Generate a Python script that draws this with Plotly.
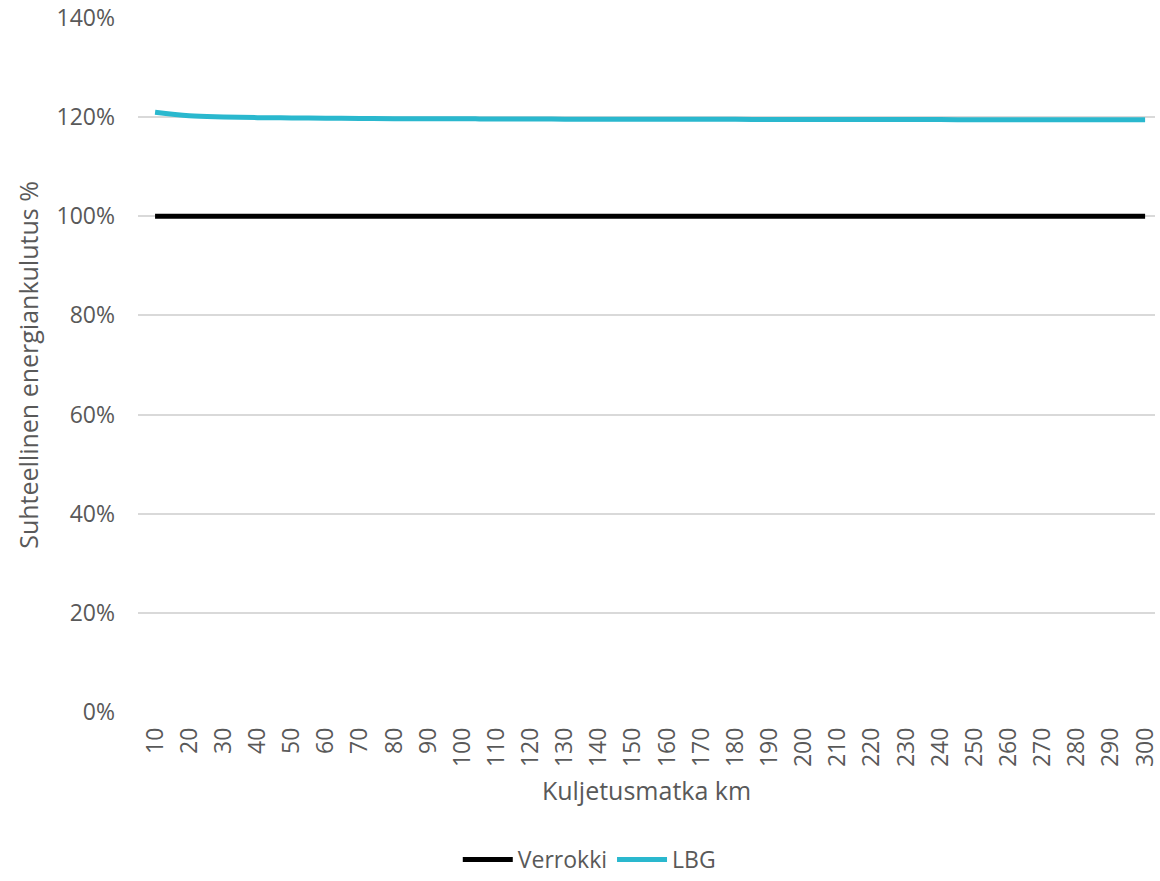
import plotly.graph_objects as go

# Transport distance categories (km)
distances = list(range(10, 301, 10))

# Relative energy consumption, % of reference
verrokki = [100.0] * 30
lbg = [121.0, 120.3, 120.05, 119.9, 119.85, 119.8, 119.75, 119.7, 119.68, 119.66,
       119.64, 119.62, 119.6, 119.59, 119.58, 119.57, 119.56, 119.55, 119.54, 119.53,
       119.52, 119.51, 119.5, 119.5, 119.49, 119.48, 119.47, 119.46, 119.45, 119.45]

y_ticks = [0, 20, 40, 60, 80, 100, 120, 140]
y_tick_text = [f"{v}%" for v in y_ticks]

font_family = "Open Sans, Noto Sans, sans-serif"
text_color = "#595959"

fig = go.Figure()
fig.add_trace(go.Scatter(
    x=distances, y=verrokki, name="Verrokki", mode="lines",
    line=dict(color="#000000", width=5),
))
fig.add_trace(go.Scatter(
    x=distances, y=lbg, name="LBG", mode="lines",
    line=dict(color="#2AB8CE", width=5, shape="spline"),
))

fig.update_layout(
    width=1160, height=881,
    margin=dict(l=138, r=0, t=18, b=169),
    paper_bgcolor="white", plot_bgcolor="white",
    font=dict(family=font_family, color=text_color, size=24),
    showlegend=True,
    legend=dict(
        orientation="h", xref="container", x=0.508, xanchor="center",
        yref="container", y=-0.018, yanchor="bottom",
        font=dict(size=23, color=text_color),
        itemwidth=50,
    ),
    xaxis=dict(
        range=[5, 302.9],
        tickmode="array", tickvals=distances, ticktext=[str(d) for d in distances],
        tickangle=-90, showgrid=False, zeroline=False, showline=False,
        ticks="", ticklabeloverflow="allow", ticklabelstandoff=10,
        tickfont=dict(size=23, color=text_color),
        title=dict(text="Kuljetusmatka km", font=dict(size=25, color=text_color), standoff=16),
    ),
    yaxis=dict(
        range=[0, 140],
        tickmode="array", tickvals=y_ticks, ticktext=y_tick_text,
        showgrid=True, gridcolor="#d9d9d9", gridwidth=1.5,
        zeroline=False, showline=False, ticks="", ticklabelstandoff=22,
        tickfont=dict(size=23, color=text_color),
        title=dict(text="Suhteellinen energiankulutus %", font=dict(size=25, color=text_color), standoff=10),
    ),
)

fig.write_html("out.html")
